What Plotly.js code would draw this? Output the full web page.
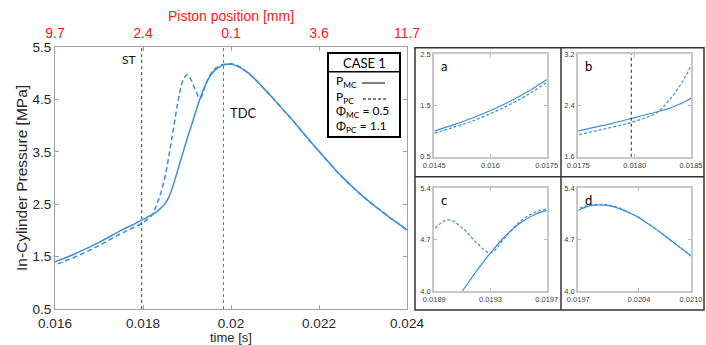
<!DOCTYPE html>
<html><head><meta charset="utf-8">
<script src="https://cdn.plot.ly/plotly-3.0.1.min.js"></script>
<style>html,body{margin:0;padding:0;background:#fff}#chart{width:706px;height:345px}</style>
</head><body><div id="chart"></div>
<script>
// ---- data ----
const time = [0.0145,0.0150,0.0155,0.0160,0.0165,0.0170,0.0175,0.0178,0.0180,0.0182,0.0183,0.0184,0.0185,
  0.0186,0.0187,0.0188,0.0189,0.0190,0.0191,0.0192,0.0193,0.0194,0.0195,0.0196,0.0197,0.0198,0.0199,0.0200,
  0.0201,0.0202,0.0203,0.0204,0.0205,0.0206,0.0207,0.0208,0.0209,0.0210,
  0.0212,0.0214,0.0216,0.0218,0.0220,0.0222,0.0224,0.0226,0.0228,0.0230,0.0232,0.0234,0.0236,0.0238,0.0240];
const pMC = [1.00,1.12,1.25,1.40,1.57,1.77,2.00,2.12,2.21,2.30,2.35,2.42,2.51,
  2.66,2.90,3.18,3.46,3.74,4.00,4.27,4.52,4.74,4.91,5.03,5.10,5.15,5.17,5.17,
  5.15,5.11,5.06,5.00,4.92,4.84,4.75,4.66,4.57,4.48,
  4.29,4.10,3.90,3.70,3.51,3.32,3.13,2.96,2.80,2.65,2.51,2.38,2.25,2.13,2.01];
const pPC = [0.96,1.07,1.19,1.34,1.51,1.71,1.94,2.06,2.15,2.29,2.47,2.70,3.02,
  3.48,3.98,4.48,4.84,4.97,4.86,4.66,4.52,4.72,4.93,5.06,5.12,5.16,5.18,5.18,
  5.16,5.12,5.06,5.00,4.92,4.84,4.75,4.66,4.57,4.48,
  4.29,4.10,3.90,3.70,3.51,3.32,3.13,2.96,2.80,2.65,2.51,2.38,2.25,2.13,2.01];
const stTime = 0.01797;
const tdcTime = 0.01983;
const mainXTicks = [0.016,0.018,0.020,0.022,0.024];
const mainXText = ['0.016','0.018','0.02','0.022','0.024'];
const mainYTicks = [0.5,1.5,2.5,3.5,4.5,5.5];
const mainYText = ['0.5','1.5','2.5','3.5','4.5','5.5'];
const pistonText = ['9.7','2.4','0.1','3.6','11.7'];
const insetLabels = ['a','b','c','d'];
const insetXRange = [[0.0145,0.0175],[0.0175,0.0185],[0.0189,0.0197],[0.0197,0.0210]];
const insetXTicks = [[0.0145,0.016,0.0175],[0.0175,0.0180,0.0185],[0.0189,0.0193,0.0197],[0.0197,0.0204,0.0210]];
const insetXText = [['0.0145','0.016','0.0175'],['0.0175','0.0180','0.0185'],['0.0189','0.0193','0.0197'],['0.0197','0.0204','0.0210']];
const insetYTicks = [[0.5,1.5,2.5],[1.6,2.4,3.2],[4.0,4.7,5.4],[4.0,4.7,5.4]];
const insetYText = [['0.5','1.5','2.5'],['1.6','2.4','3.2'],['4.0','4.7','5.4'],['4.0','4.7','5.4']];
const caseTitle = 'CASE 1';
const legendRows = ['P<sub>MC</sub>','P<sub>PC</sub>','Φ<sub>MC</sub> = 0.5','Φ<sub>PC</sub> = 1.1'];

// ---- layout helpers ----
const W = 706, H = 345;
const px = x => x / W, py = y => 1 - y / H;
const blue = '#3d8fd6';
const sans = 'Liberation Sans, Arial, sans-serif';
const cal = 'Lato, Open Sans, sans-serif';
const tickFont = {family: sans, size: 13.5, color: '#262626'};
const insetFont = {family: sans, size: 7.5, color: '#404040'};
const insetDom = [
  {x: [434.3, 546.7], y: [54, 156.7]},
  {x: [578.3, 691], y: [54, 156.7]},
  {x: [434.3, 546.7], y: [188.3, 291]},
  {x: [578.3, 691], y: [188.3, 291]}
];

const traces = [
  {x: time, y: pMC, xaxis: 'x', yaxis: 'y', mode: 'lines', line: {color: blue, width: 1.5, shape: 'spline'}},
  {x: time, y: pPC, xaxis: 'x', yaxis: 'y', mode: 'lines', line: {color: blue, width: 1.5, dash: '5px,3px', shape: 'spline'}},
  {x: mainXTicks, y: mainXTicks.map(() => null), xaxis: 'x2', yaxis: 'y', mode: 'markers', marker: {opacity: 0}}
];

function note(text, x, y, font, extra) {
  return Object.assign({text: text, xref: 'paper', yref: 'paper', x: x, y: y, xanchor: 'center', yanchor: 'middle',
    showarrow: false, font: font}, extra || {});
}

const layout = {
  width: W, height: H, margin: {l: 0, r: 0, t: 0, b: 0},
  paper_bgcolor: '#fff', plot_bgcolor: '#fff', showlegend: false,
  xaxis: {domain: [px(55), px(407)], range: [0.016, 0.024], tickvals: mainXTicks, ticktext: mainXText,
    ticks: 'inside', ticklen: 4, tickcolor: '#a0a0a0', showline: true, linecolor: '#a0a0a0', linewidth: 1,
    mirror: 'ticks', showgrid: false, zeroline: false, tickfont: tickFont, anchor: 'y', ticklabelstandoff: 2},
  yaxis: {domain: [py(309), py(47)], range: [0.5, 5.5], tickvals: mainYTicks, ticktext: mainYText,
    ticks: 'inside', ticklen: 4, tickcolor: '#a0a0a0', showline: true, linecolor: '#a0a0a0', linewidth: 1,
    mirror: 'ticks', showgrid: false, zeroline: false, tickfont: tickFont, anchor: 'x'},
  xaxis2: {overlaying: 'x', side: 'top', anchor: 'y', range: [0.016, 0.024], tickvals: mainXTicks, ticktext: pistonText,
    ticks: '', showline: false, showgrid: false, zeroline: false, ticklabelstandoff: 5,
    tickfont: {family: sans, size: 14, color: '#ff1a1a'}},
  annotations: [
    note('In-Cylinder Pressure [MPa]', px(21), py(178), {family: sans, size: 15.5, color: '#262626'}, {textangle: -90}),
    note('time [s]', px(231), py(337), {family: sans, size: 13, color: '#262626'}),
    note('Piston position [mm]', px(231), py(16), {family: sans, size: 14, color: '#ff1a1a'}),
    {text: 'ST', xref: 'x', yref: 'paper', x: stTime, xanchor: 'right', yanchor: 'middle', xshift: -4, y: py(59), showarrow: false,
      font: {family: cal, size: 12, color: '#111'}},
    {text: 'TDC', xref: 'x', yref: 'paper', x: tdcTime, xanchor: 'left', yanchor: 'middle', xshift: 4, y: py(113), showarrow: false,
      font: {family: cal, size: 13, color: '#111'}},
    note(caseTitle, px(364), py(62.5), {family: cal, size: 13, color: '#000'})
  ],
  shapes: [
    {type: 'line', xref: 'x', yref: 'y domain', x0: stTime, x1: stTime, y0: 0, y1: 1, line: {color: '#444', width: 1, dash: 'dot'}},
    {type: 'line', xref: 'x', yref: 'y domain', x0: tdcTime, x1: tdcTime, y0: 0, y1: 1, line: {color: '#777', width: 1, dash: 'dot'}},
    {type: 'rect', xref: 'paper', yref: 'paper', x0: px(415), x1: px(704), y0: py(310), y1: py(47.7), line: {color: '#333', width: 1.5}},
    {type: 'line', xref: 'paper', yref: 'paper', x0: px(561), x1: px(561), y0: py(310), y1: py(47.7), line: {color: '#333', width: 1.5}},
    {type: 'line', xref: 'paper', yref: 'paper', x0: px(415), x1: px(704), y0: py(176.7), y1: py(176.7), line: {color: '#333', width: 1.5}},
    {type: 'rect', xref: 'paper', yref: 'paper', x0: px(328), x1: px(400), y0: py(137), y1: py(53), fillcolor: '#fff', line: {color: '#000', width: 2}},
    {type: 'line', xref: 'paper', yref: 'paper', x0: px(328), x1: px(400), y0: py(71.7), y1: py(71.7), line: {color: '#000', width: 1.5}},
    {type: 'line', xref: 'paper', yref: 'paper', x0: px(362), x1: px(385), y0: py(83), y1: py(83), line: {color: '#000', width: 1}},
    {type: 'line', xref: 'paper', yref: 'paper', x0: px(363), x1: px(386), y0: py(99), y1: py(99), line: {color: '#000', width: 1, dash: '3px,2px'}}
  ]
};

const legendY = [81.5, 97.5, 112, 127];
legendRows.forEach((t, i) => layout.annotations.push(note(t, px(334), py(legendY[i]),
  {family: cal, size: 12, color: '#000'}, {xanchor: 'left'})));

insetLabels.forEach((lab, i) => {
  const n = i + 3, xa = 'x' + n, ya = 'y' + n;
  traces.push({x: time, y: pMC, xaxis: xa, yaxis: ya, mode: 'lines', line: {color: blue, width: 1.2, shape: 'spline'}});
  traces.push({x: time, y: pPC, xaxis: xa, yaxis: ya, mode: 'lines', line: {color: blue, width: 1.2, dash: '3px,2px', shape: 'spline'}});
  const d = insetDom[i];
  layout['xaxis' + n] = {domain: [px(d.x[0]), px(d.x[1])], range: insetXRange[i], tickvals: insetXTicks[i], ticktext: insetXText[i],
    ticks: 'inside', ticklen: 3, tickcolor: '#bbb', showline: true, linecolor: '#c8c8c8', linewidth: 2, mirror: 'ticks',
    showgrid: false, zeroline: false, tickfont: insetFont, anchor: ya, ticklabelstandoff: 0};
  layout['yaxis' + n] = {domain: [py(d.y[1]), py(d.y[0])], range: [insetYTicks[i][0], insetYTicks[i][2]], tickvals: insetYTicks[i], ticktext: insetYText[i],
    ticks: 'inside', ticklen: 3, tickcolor: '#bbb', showline: true, linecolor: '#c8c8c8', linewidth: 2, mirror: 'ticks',
    showgrid: false, zeroline: false, tickfont: insetFont, anchor: xa};
  layout.annotations.push({text: lab, xref: xa + ' domain', yref: ya + ' domain', x: 0.04, y: 0.98, xanchor: 'left', yanchor: 'top',
    showarrow: false, font: {family: cal, size: 13, color: '#000'}});
});
layout.shapes.push({type: 'line', xref: 'x4', yref: 'y4 domain', x0: stTime, x1: stTime, y0: 0, y1: 1, line: {color: '#222', width: 1, dash: 'dot'}});

traces.forEach(t => { t.hoverinfo = 'skip'; });
Plotly.newPlot('chart', traces, layout, {staticPlot: true, displayModeBar: false});
</script>
</body></html>
